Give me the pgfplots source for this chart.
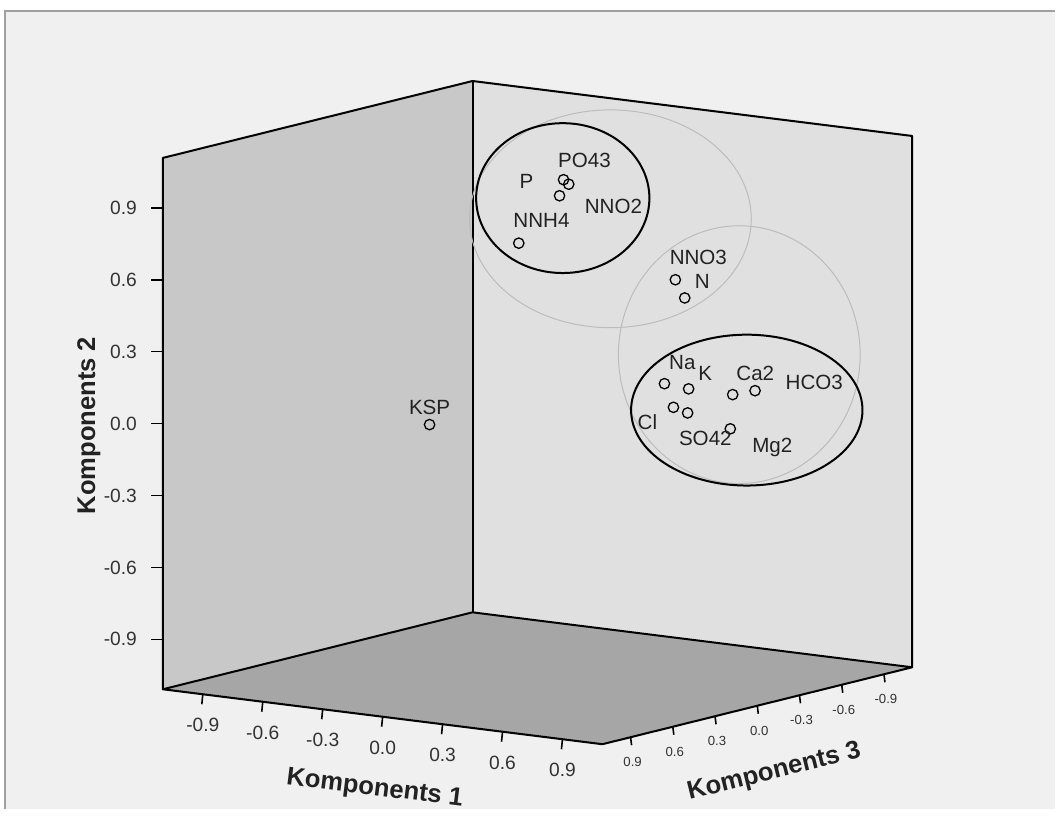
\documentclass[border=0pt]{standalone}
\usepackage{fontspec}
\setmainfont{Liberation Sans}
\usepackage{pgfplots}
\usepackage{pgfplotstable}
\pgfplotsset{compat=1.18}
\pgfdeclarelayer{bglayer}
\pgfsetlayers{bglayer,main}
\definecolor{bgc}{HTML}{F0F0F0}
\definecolor{framec}{HTML}{A0A0A0}
\definecolor{leftwall}{HTML}{C8C8C8}
\definecolor{rightwall}{HTML}{E0E0E0}
\definecolor{floorc}{HTML}{A6A6A6}
\definecolor{ringc}{HTML}{BCBCBC}
\definecolor{txt}{HTML}{222222}
\definecolor{ticktxt}{HTML}{333333}

% component loadings (Komponents 1, 2, 3)
\pgfplotstableread{
name k1 k2 k3
PO43 0.060 0.963 -0.10
NNO2 0.086 0.947 -0.10
P 0.040 0.894 -0.10
NNH4 -0.164 0.675 -0.10
NNO3 0.690 0.626 0.00
N 0.737 0.555 0.00
Na 0.565 0.165 -0.10
K 0.686 0.156 -0.10
Cl 0.610 0.071 -0.10
SO42 0.681 0.055 -0.10
Ca2 0.836 0.133 -0.20
HCO3 0.948 0.161 -0.20
Mg2 0.824 -0.011 -0.20
KSP 0.094 0.091 0.90
}\loadings

\newcommand{\ticklbl}{\fontsize{9.6}{11}\selectfont\color{ticktxt}}
\newcommand{\smalltick}{\fontsize{6.6}{8}\selectfont\color{ticktxt}}
\newcommand{\ttl}{\bfseries\fontsize{12.8}{15}\selectfont\color{txt}}
\newcommand{\ptl}{\fontsize{10.3}{12}\selectfont\color{txt}}

\begin{document}
\begin{tikzpicture}[x=0.5pt,y=-0.5pt]
\begin{axis}[hide axis, clip=false,
  x={(100pt,-12.5pt)}, y={(-70.45pt,-17.5pt)}, z={(0pt,120pt)},
  xmin=-1.1, xmax=1.1, ymin=-1.1, ymax=1.1, zmin=-1.108, zmax=1.108]
  \coordinate (O) at (axis cs:0,0,0);
  % walls
  \addplot3[fill=leftwall, draw=none] coordinates {(-1.1,1.1,-1.108) (-1.1,-1.1,-1.108) (-1.1,-1.1,1.108) (-1.1,1.1,1.108)} -- cycle;
  \addplot3[fill=rightwall, draw=none] coordinates {(-1.1,-1.1,-1.108) (1.1,-1.1,-1.108) (1.1,-1.1,1.108) (-1.1,-1.1,1.108)} -- cycle;
  \addplot3[fill=floorc, draw=none] coordinates {(-1.1,1.1,-1.108) (1.1,1.1,-1.108) (1.1,-1.1,-1.108) (-1.1,-1.1,-1.108)} -- cycle;
  % edges
  \addplot3[black, line width=1pt, line join=round] coordinates {(-1.1,1.1,-1.108) (-1.1,1.1,1.108) (-1.1,-1.1,1.108) (1.1,-1.1,1.108) (1.1,-1.1,-1.108)};
  \addplot3[black, line width=1pt, line join=round] coordinates {(-1.1,-1.1,1.108) (-1.1,-1.1,-1.108)};
  \addplot3[black, line width=1pt, line join=round] coordinates {(-1.1,1.1,-1.108) (1.1,1.1,-1.108) (1.1,-1.1,-1.108) (-1.1,-1.1,-1.108) (-1.1,1.1,-1.108)} -- cycle;
  % ticks and tick labels
  \pgfplotsinvokeforeach{-0.9,-0.6,-0.3,0.0,0.3,0.6,0.9}{
    \draw[black, line width=0.8pt] (axis cs:#1,1.1,-1.108) -- ++(-0.5pt,-5pt);
    \node[font=\ticklbl] at (axis cs:#1,1.1,-1.108) [yshift=-15.5pt] {#1};
    \draw[black, line width=0.8pt] (axis cs:1.1,#1,-1.108) -- ++(0.5pt,-4pt);
    \node[font=\smalltick] at (axis cs:1.1,#1,-1.108) [xshift=1pt, yshift=-12.5pt] {#1};
    \draw[black, line width=0.8pt] (axis cs:-1.1,1.1,#1) -- ++(-6pt,0pt);
    \node[font=\ticklbl, anchor=east] at (axis cs:-1.1,1.1,#1) [xshift=-9.5pt] {#1};
  }
  % points
  \addplot3[only marks, mark=o, mark size=2.6pt, line width=0.65pt, black] table[x=k1, y=k3, z=k2] {\loadings};
\end{axis}

\begin{scope}[shift={(O)}]
\begin{scope}[shift={(-538,-413)}]
% background and frame (pixel coordinates of the 1056 x 810 picture)
\begin{pgfonlayer}{bglayer}
\fill[white] (0,0) rectangle (1056,810);
\fill[bgc] (5,11) rectangle (1056,810);
\draw[framec, line width=1pt] (5,810) -- (5,11) -- (1056,11);
\end{pgfonlayer}

% axis titles
\node[font=\ttl, rotate=90] at (89,426) {Komponents 2};
\node[font=\ttl, rotate=-7.1] at (375,790) {Komponents 1};
\node[font=\ttl, rotate=14] at (775,773) {Komponents 3};

% point labels
\node[font=\ptl] at (585,161) {PO43};
\node[font=\ptl] at (527,182) {P};
\node[font=\ptl] at (614,207) {NNO2};
\node[font=\ptl] at (542,221) {NNH4};
\node[font=\ptl] at (699,258) {NNO3};
\node[font=\ptl] at (703,282) {N};
\node[font=\ptl] at (683,363) {Na};
\node[font=\ptl] at (706,374) {K};
\node[font=\ptl] at (648,423) {Cl};
\node[font=\ptl] at (706,439) {SO42};
\node[font=\ptl] at (756,374) {Ca2};
\node[font=\ptl] at (815,383) {HCO3};
\node[font=\ptl] at (773,448) {Mg2};
\node[font=\ptl] at (430,408) {KSP};

% cluster annotations
\draw[ringc, line width=0.5pt] (611,219) ellipse [x radius=141, y radius=109];
\draw[ringc, line width=0.5pt] (740,355) ellipse [x radius=121, y radius=129];
\draw[black, line width=1pt] (563.3,198.3) ellipse [x radius=86.7, y radius=75];
\draw[black, line width=1pt] (747.5,410.5) ellipse [x radius=115.8, y radius=75.5];
\end{scope}
\end{scope}
\end{tikzpicture}
\end{document}
